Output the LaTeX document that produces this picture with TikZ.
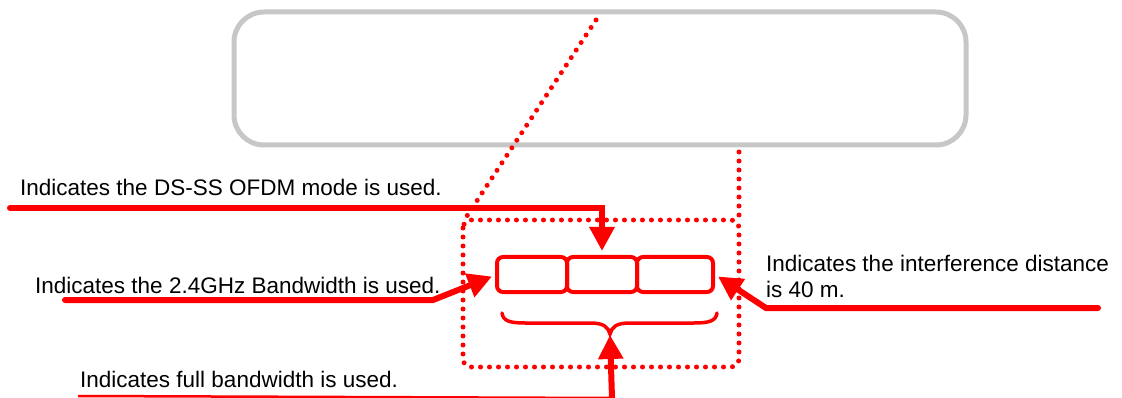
\documentclass[tikz,border=0pt]{standalone}
\usepackage{fontspec}
\setmainfont{Liberation Sans}
\usetikzlibrary{arrows.meta}
\begin{document}
\begin{tikzpicture}[x=1pt,y=-1pt,
 redarrow/.style={draw=red, line width=6pt, -{Triangle[length=24pt,width=24pt]}},
 reddots/.style={draw=red, line width=5pt, line cap=round, dash pattern=on 0pt off 9pt},
 cell/.style={draw=red, line width=4pt, rounded corners=6pt, minimum height=35pt, inner sep=0pt},
 lbl/.style={font=\fontsize{22.5}{26}\selectfont, inner sep=0pt}]
\useasboundingbox (0,0) rectangle (1122,398);
% grey panel
\draw[black!22, line width=5pt, rounded corners=30pt] (234,12) rectangle (966,145);
% dotted guides
\draw[reddots, rounded corners=8pt] (463,220) rectangle (739,367);
\draw[reddots] (739,152) -- (739,220);
\draw[reddots] (596,20) -- (463,222);
% cells
\node[cell, minimum width=70pt] (c1) at (532,274.5) {};
\node[cell, minimum width=70pt] (c2) at (602,274.5) {};
\node[cell, minimum width=76pt] (c3) at (675,274.5) {};
% brace
\coordinate (btip) at (610,334);
\draw[red, line width=3.5pt, line cap=round]
  (502,313) .. controls (503,321) and (510,323) .. (525,323) -- (590,323)
  .. controls (604,323) and (608,327) .. (btip)
  .. controls (612,327) and (616,323) .. (630,323) -- (694,323)
  .. controls (709,323) and (716,321) .. (717,313);
% labels
\node[lbl, anchor=base west] (t1) at (20,196) {Indicates the DS-SS OFDM mode is used.};
\node[lbl, anchor=base west] (t2) at (35,293) {Indicates the 2.4GHz Bandwidth is used.};
\node[lbl, anchor=base west, align=left] (t3) at (766,298) {Indicates the interference distance\\is 40 m.};
\node[lbl, anchor=base west] (t4) at (80,387) {Indicates full bandwidth is used.};
% arrows
\coordinate (a1) at (10,208);
\coordinate (a2) at (65,300);
\coordinate (a2b) at (433,300);
\coordinate (a3) at (1098,308);
\coordinate (a3b) at (766,308);
\coordinate (a4) at (612,398);
\coordinate (a4l) at (78,396);
\draw[redarrow, line cap=round] (a1) -| ([yshift=4pt]c2.north);
\draw[redarrow, line cap=round] (a2) -- (a2b) -- ([xshift=-3pt,yshift=-2pt]c1.west);
\draw[redarrow, line cap=round] (a3) -- (a3b) -- ([xshift=3pt,yshift=-2pt]c3.east);
\draw[red, line width=2.5pt] (a4l) -- (a4);
\draw[redarrow] (a4) -- ([yshift=-1pt]btip);
\end{tikzpicture}
\end{document}
